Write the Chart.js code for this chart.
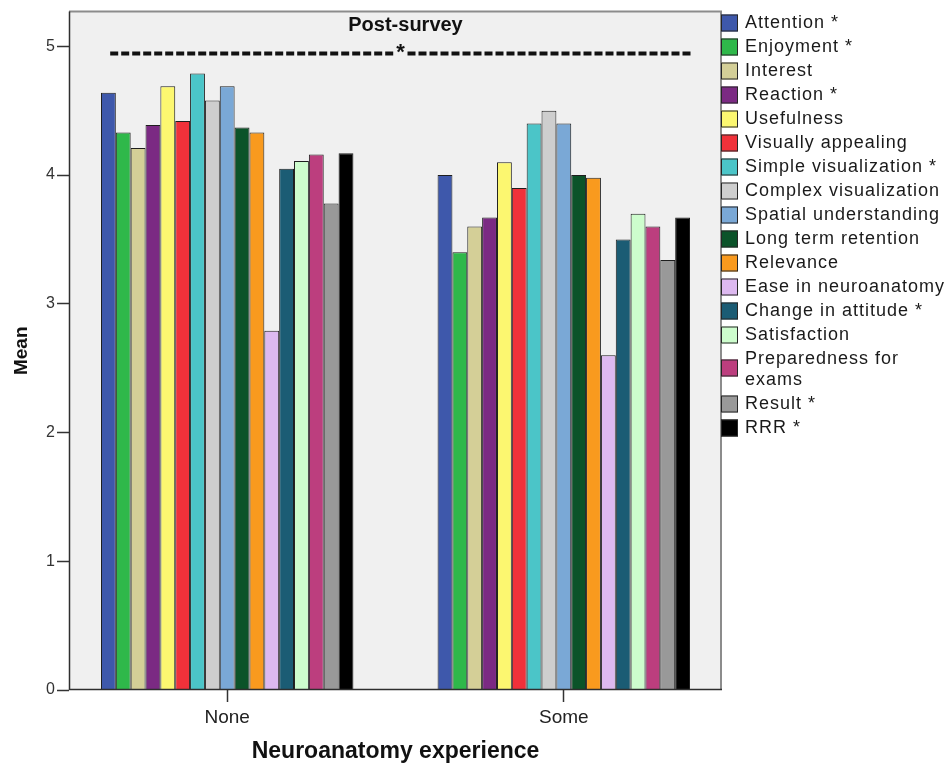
<!DOCTYPE html>
<html>
<head>
<meta charset="utf-8">
<title>Post-survey means by neuroanatomy experience</title>
<script src="https://cdn.jsdelivr.net/npm/chart.js@4.4.1/dist/chart.umd.min.js"></script>
<style>
  html, body { margin: 0; padding: 0; background: #ffffff; }
  #wrap { width: 952px; height: 767px; }
</style>
</head>
<body>
<div id="wrap"><canvas id="chart" width="952" height="767"></canvas></div>
<script>
// Groups on the x axis
const categories = ['None', 'Some'];

// Survey items (one bar per item in each group)
const seriesNames = [
  'Attention *', 'Enjoyment *', 'Interest', 'Reaction *', 'Usefulness',
  'Visually appealing', 'Simple visualization *', 'Complex visualization',
  'Spatial understanding', 'Long term retention', 'Relevance',
  'Ease in neuroanatomy', 'Change in attitude *', 'Satisfaction',
  'Preparedness for exams', 'Result *', 'RRR *'
];

// Mean score per item, students with no prior experience
const noneMeans = [4.64, 4.33, 4.21, 4.39, 4.69, 4.42, 4.79, 4.58, 4.69, 4.37, 4.33, 2.79, 4.05, 4.11, 4.16, 3.78, 4.17];

// Mean score per item, students with some prior experience
const someMeans = [4.00, 3.40, 3.60, 3.67, 4.10, 3.90, 4.40, 4.50, 4.40, 4.00, 3.98, 2.60, 3.50, 3.70, 3.60, 3.34, 3.67];

const seriesColors = [
  '#3e58ab', '#2fb84a', '#d4cf97', '#7b2a83', '#fcf770', '#f0313a',
  '#4bc5c8', '#cecece', '#7aa8d6', '#0b5329', '#f99a1e', '#ddb9f0',
  '#1b5c74', '#cdfdcd', '#bc3e7e', '#999999', '#000000'
];

const yTicks = [0, 1, 2, 3, 4, 5];

const FONT = '"Liberation Sans", Arial, Helvetica, sans-serif';

const datasets = seriesNames.map((name, i) => ({
  label: name,
  data: [ { x: 0, y: noneMeans[i] }, { x: 1, y: someMeans[i] } ],
  backgroundColor: seriesColors[i],
  borderColor: '#1e1e1e',
  borderWidth: 1,
  borderSkipped: 'bottom',
  categoryPercentage: 0.75,
  barPercentage: 1.0
}));

// Page background, plot panel, frame, headings and the legend
const decor = {
  id: 'decor',
  beforeDraw(chart) {
    const { ctx, chartArea: a } = chart;
    ctx.save();
    ctx.fillStyle = '#ffffff';
    ctx.fillRect(0, 0, chart.width, chart.height);
    ctx.fillStyle = '#f0f0f0';
    ctx.fillRect(a.left, a.top, a.right - a.left, a.bottom - a.top);
    ctx.restore();
  },
  afterDatasetsDraw(chart) {
    const { ctx, chartArea: a } = chart;
    const xs = chart.scales.x;
    ctx.save();

    // panel frame: light top and right edges, dark axis lines
    ctx.strokeStyle = '#8c8c8c';
    ctx.lineWidth = 2;
    ctx.beginPath();
    ctx.moveTo(a.left, a.top);
    ctx.lineTo(a.right, a.top);
    ctx.moveTo(a.right - 1, a.top);
    ctx.lineTo(a.right - 1, a.bottom);
    ctx.stroke();
    ctx.strokeStyle = '#2e2e2e';
    ctx.lineWidth = 1.5;
    ctx.beginPath();
    ctx.moveTo(a.left + 0.5, a.top);
    ctx.lineTo(a.left + 0.5, a.bottom);
    ctx.moveTo(a.left, a.bottom - 0.5);
    ctx.lineTo(a.right, a.bottom - 0.5);
    ctx.stroke();

    // heading and significance bracket
    const mid = (xs.getPixelForValue(0) + xs.getPixelForValue(1)) / 2 + 12;
    ctx.fillStyle = '#111111';
    ctx.textAlign = 'center';
    ctx.textBaseline = 'middle';
    ctx.font = 'bold 20px ' + FONT;
    ctx.fillText('Post-survey', mid - 2, a.top + 14);

    const lineY = a.top + 42;
    const x0 = xs.getPixelForValue(0) - 117;
    const x1 = xs.getPixelForValue(1) + 128;
    const star = mid - 7;
    ctx.strokeStyle = '#111111';
    ctx.lineWidth = 4;
    ctx.setLineDash([8, 3]);
    ctx.beginPath();
    ctx.moveTo(x0, lineY);
    ctx.lineTo(star - 7, lineY);
    ctx.moveTo(star + 7, lineY);
    ctx.lineTo(x1, lineY);
    ctx.stroke();
    ctx.setLineDash([]);
    ctx.font = 'bold 22px ' + FONT;
    ctx.fillText('*', star, lineY - 1);

    // axis titles
    ctx.font = 'bold 23px ' + FONT;
    ctx.fillText('Neuroanatomy experience', (a.left + a.right) / 2, 752);
    ctx.save();
    ctx.translate(22, (a.top + a.bottom) / 2);
    ctx.rotate(-Math.PI / 2);
    ctx.font = 'bold 19px ' + FONT;
    ctx.fillText('Mean', 0, 0);
    ctx.restore();

    // legend
    const lx = a.right - 1;
    let y = 23;
    ctx.textAlign = 'left';
    ctx.font = '18px ' + FONT;
    if ('letterSpacing' in ctx) ctx.letterSpacing = '1px';
    seriesNames.forEach((name, i) => {
      let lines = [name];
      if (name === 'Preparedness for exams') lines = ['Preparedness for', 'exams'];
      const boxY = lines.length > 1 ? y + 9 : y;
      ctx.fillStyle = seriesColors[i];
      ctx.fillRect(lx, boxY - 8.5, 17, 17);
      ctx.strokeStyle = '#262626';
      ctx.lineWidth = 1;
      ctx.strokeRect(lx + 0.5, boxY - 8, 16, 16);
      ctx.fillStyle = '#1a1a1a';
      lines.forEach((t, k) => ctx.fillText(t, lx + 24, y + k * 21));
      y += 24 + (lines.length - 1) * 21;
    });
    ctx.restore();
  }
};

new Chart(document.getElementById('chart'), {
  type: 'bar',
  data: { datasets },
  plugins: [decor],
  options: {
    responsive: false,
    animation: false,
    devicePixelRatio: 1,
    layout: { padding: { top: 6, right: 230, left: 0, bottom: 0 } },
    plugins: { legend: { display: false }, tooltip: { enabled: false }, title: { display: false } },
    scales: {
      x: {
        type: 'linear',
        min: -0.47,
        max: 1.47,
        offset: false,
        afterBuildTicks(scale) { scale.ticks = categories.map((c, i) => ({ value: i })); },
        afterFit(scale) { scale.height = 77; },
        grid: { display: true, offset: false, drawOnChartArea: false, drawTicks: true, tickLength: 12, color: '#333333', tickWidth: 1.5 },
        border: { display: false },
        ticks: {
          callback: (v) => categories[v],
          color: '#222222',
          font: { family: FONT, size: 19 },
          padding: 4,
          maxRotation: 0
        }
      },
      y: {
        min: 0,
        max: 5.27,
        afterBuildTicks(scale) { scale.ticks = yTicks.map(v => ({ value: v })); },
        afterFit(scale) { scale.width = 69; },
        grid: { display: true, drawOnChartArea: false, drawTicks: true, tickLength: 12, color: '#333333', tickWidth: 1.5 },
        border: { display: false },
        ticks: {
          color: '#333333',
          font: { family: FONT, size: 16 },
          padding: 2
        }
      }
    }
  }
});
</script>
</body>
</html>
